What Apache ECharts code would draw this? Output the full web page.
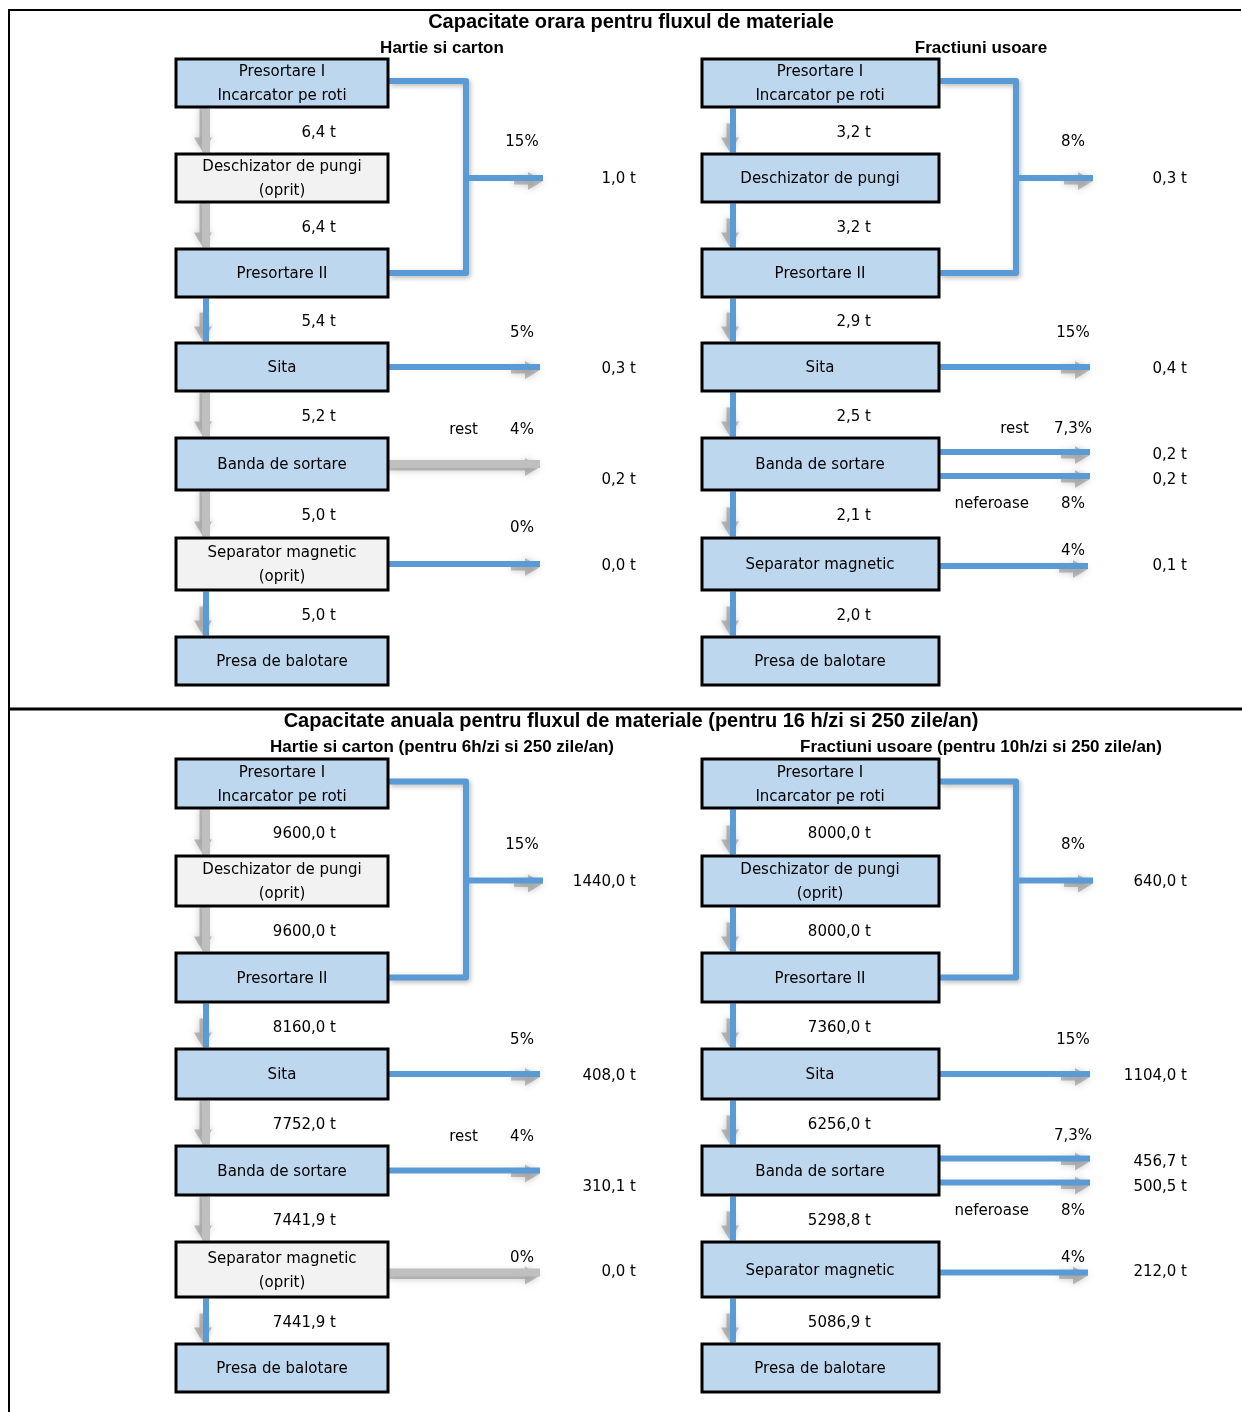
<!DOCTYPE html>
<html><head><meta charset="utf-8">
<script src="https://cdn.jsdelivr.net/npm/echarts@6/dist/echarts.min.js"></script>
<style>html,body{margin:0;padding:0;background:#fff}#c{width:1242px;height:1412px}</style>
</head><body><div id="c"></div>
<script>
// ---------------- DATA ----------------
const sectionTitles = [
  'Capacitate orara pentru fluxul de materiale',
  'Capacitate anuala pentru fluxul de materiale (pentru 16 h/zi si 250 zile/an)'
];
const streamTitles = [
  'Hartie si carton', 'Fractiuni usoare',
  'Hartie si carton (pentru 6h/zi si 250 zile/an)', 'Fractiuni usoare (pentru 10h/zi si 250 zile/an)'
];
const machinesHartie = ['Presortare I\nIncarcator pe roti', 'Deschizator de pungi\n(oprit)', 'Presortare II', 'Sita', 'Banda de sortare', 'Separator magnetic\n(oprit)', 'Presa de balotare'];
const machinesUsoareOra = ['Presortare I\nIncarcator pe roti', 'Deschizator de pungi', 'Presortare II', 'Sita', 'Banda de sortare', 'Separator magnetic', 'Presa de balotare'];
const machinesUsoareAn = ['Presortare I\nIncarcator pe roti', 'Deschizator de pungi\n(oprit)', 'Presortare II', 'Sita', 'Banda de sortare', 'Separator magnetic', 'Presa de balotare'];
const flowHartieOra = [6.4, 6.4, 5.4, 5.2, 5.0, 5.0];
const flowUsoareOra = [3.2, 3.2, 2.9, 2.5, 2.1, 2.0];
const flowHartieAn = [9600.0, 9600.0, 8160.0, 7752.0, 7441.9, 7441.9];
const flowUsoareAn = [8000.0, 8000.0, 7360.0, 6256.0, 5298.8, 5086.9];
// shares: presortare, sita, banda (rest), separator
const shareHartie = [15, 5, 4, 0];
// shares: presortare, sita, banda rest, banda neferoase, separator
const shareUsoare = [8, 15, 7.3, 8, 4];
const outHartieOra = [1.0, 0.3, 0.2, 0.0];
const outUsoareOra = [0.3, 0.4, 0.2, 0.2, 0.1];
const outHartieAn = [1440.0, 408.0, 310.1, 0.0];
const outUsoareAn = [640.0, 1104.0, 456.7, 500.5, 212.0];
const sortLabels = ['rest', 'neferoase'];

// ---------------- LAYOUT / STYLE ----------------
const BLUE = '#5B9BD5', GREYARROW = '#BFBFBF', BOXBLUE = '#BDD7EE', BOXGREY = '#F2F2F2';
const FONT = '15px "DejaVu Sans"';
const TDY = 2.5;
const cols = [
  {box: 176, w: 212, down: 206, flowR: 336, pct: 522, outR: 636, end: 540, brX: 466, brEnd: 543, restR: 478, cx: 282},
  {box: 702, w: 237, down: 733, flowR: 871, pct: 1073, outR: 1187, end: 1090, brX: 1016, brEnd: 1093, restR: 1029, cx: 820}
];
const rowsTop = [[59, 154, 249, 343, 438, 538, 637], [759, 856, 953, 1049, 1146, 1242, 1344]];
const rowsH = [[48, 48, 48, 48, 52, 52, 48], [49, 50, 49, 50, 49, 55, 48]];
const panels = [
  {sec: 0, col: 0, kind: 'H', machines: machinesHartie, flows: flowHartieOra, shares: shareHartie, outs: outHartieOra,
   grey: [1, 5], down: [0, 0, 1, 0, 0, 1], side: [1, 1, 0, 1], rest: true, sepDy: -38, sepAdj: 0},
  {sec: 0, col: 1, kind: 'U', machines: machinesUsoareOra, flows: flowUsoareOra, shares: shareUsoare, outs: outUsoareOra,
   grey: [], down: [1, 1, 1, 1, 1, 1], side: [1, 1, 1, 1, 1], rest: true, sepDy: -17, sepAdj: 2},
  {sec: 1, col: 0, kind: 'H', machines: machinesHartie, flows: flowHartieAn, shares: shareHartie, outs: outHartieAn,
   grey: [1, 5], down: [0, 0, 1, 0, 0, 1], side: [1, 1, 1, 0], rest: true, sepDy: -17, sepAdj: 3},
  {sec: 1, col: 1, kind: 'U', machines: machinesUsoareAn, flows: flowUsoareAn, shares: shareUsoare, outs: outUsoareAn,
   grey: [], down: [1, 1, 1, 1, 1, 1], side: [1, 1, 1, 1, 1], rest: false, sepDy: -17, sepAdj: 3}
];
const secTitleY = [22, 721], streamY = [47, 746], streamX = [442, 981];

const fmtT = v => v.toFixed(1).replace('.', ',') + ' t';
const fmtP = v => String(v).replace('.', ',') + '%';

function renderItem(params, api) {
  const ch = [];
  const P = (x, y) => api.coord([x, y]);
  const text = (x, y, t, align, font, dy) => {
    const p = P(x, y + (dy === undefined ? TDY : dy));
    ch.push({type: 'text', style: {x: p[0], y: p[1], text: t, font: font || FONT, fill: '#000',
      align: align || 'center', verticalAlign: 'middle', lineHeight: 24}});
  };
  const line = (pts, color, w, shadow) => {
    ch.push({type: 'polyline', shape: {points: pts.map(q => P(q[0], q[1]))},
      style: Object.assign({stroke: color, lineWidth: w, fill: null, lineJoin: 'round', lineCap: 'butt'},
        shadow ? {shadowBlur: 5, shadowColor: 'rgba(0,0,0,0.28)', shadowOffsetX: 1.5, shadowOffsetY: 2} : {})});
  };
  const arrow = (x1, y1, x2, y2, active) => {
    const L = Math.hypot(x2 - x1, y2 - y1), dx = (x2 - x1) / L, dy = (y2 - y1) / L, nx = -dy, ny = dx;
    const off = 3, hl = 15, hw = 9, sw = 3.5;
    const pt = (a, b) => P(x1 + dx * a + nx * (b + off), y1 + dy * a + ny * (b + off));
    const s0 = active ? Math.max(0, L - hl - 14) : 0;
    ch.push({type: 'polygon', shape: {points: [pt(s0, -sw), pt(L - hl, -sw), pt(L - hl, -hw), pt(L, 0), pt(L - hl, hw), pt(L - hl, sw), pt(s0, sw)]},
      style: {fill: 'rgba(120,120,120,0.45)', shadowBlur: 7, shadowColor: 'rgba(110,110,110,0.85)'}});
    line([[x1, y1], [x2, y2]], active ? BLUE : GREYARROW, active ? 6 : 8, false);
  };

  // frame
  line([[8, 10], [1241, 10]], '#000', 2);
  line([[9, 10], [9, 1412]], '#000', 2);
  line([[9, 709], [1242, 709]], '#000', 3);

  // titles
  sectionTitles.forEach((t, i) => text(631, secTitleY[i], t, 'center', 'bold 20px "Liberation Sans"', 0.5));
  streamTitles.forEach((t, i) => text(streamX[i % 2], streamY[Math.floor(i / 2)], t, 'center', 'bold 17px "Liberation Sans"', 1));

  panels.forEach(pn => {
    const c = cols[pn.col], tops = rowsTop[pn.sec], hs = rowsH[pn.sec];
    const mid = i => tops[i] + hs[i] / 2;
    const boxR = c.box + c.w;
    // vertical arrows + flow labels
    pn.flows.forEach((v, i) => {
      arrow(c.down, tops[i] + hs[i] + 1.5, c.down, tops[i + 1] - 1.5, pn.down[i]);
      text(c.flowR, (tops[i] + hs[i] + tops[i + 1]) / 2, fmtT(v), 'right');
    });
    // bracket presortare I + II
    const y1 = mid(0) - 2, y3 = mid(2), ym = (y1 + y3) / 2 + 1;
    line([[boxR + 1, y1], [c.brX, y1], [c.brX, y3], [boxR + 1, y3]], BLUE, 6, true);
    arrow(c.brX, ym, c.brEnd, ym, pn.side[0]);
    text(c.pct, ym - 38, fmtP(pn.shares[0]));
    text(c.outR, ym - 1, fmtT(pn.outs[0]), 'right');
    // sita
    const ys = mid(3);
    arrow(boxR + 1, ys, c.end, ys, pn.side[1]);
    text(c.pct, ys - 36.5, fmtP(pn.shares[1]));
    text(c.outR, ys, fmtT(pn.outs[1]), 'right');
    // banda
    const yb = mid(4);
    if (pn.kind === 'H') {
      arrow(boxR + 1, yb, c.end, yb, pn.side[2]);
      text(c.pct, yb - 36, fmtP(pn.shares[2]));
      text(c.restR, yb - 36, sortLabels[0], 'right');
      text(c.outR, yb + 14, fmtT(pn.outs[2]), 'right');
      const ysep = mid(5) + pn.sepAdj;
      arrow(boxR + 1, ysep, c.end, ysep, pn.side[3]);
      text(c.pct, ysep + pn.sepDy, fmtP(pn.shares[3]));
      text(c.outR, mid(5), fmtT(pn.outs[3]), 'right');
    } else {
      const ya = yb - 12, yc = yb + 12;
      arrow(boxR, ya, c.end, ya, pn.side[2]);
      arrow(boxR, yc, c.end, yc, pn.side[3]);
      text(c.pct, ya - 25, fmtP(pn.shares[2]));
      if (pn.rest) text(c.restR, ya - 25, sortLabels[0], 'right');
      text(c.outR, ya + 1, fmtT(pn.outs[2]), 'right');
      text(c.outR, yc + 2, fmtT(pn.outs[3]), 'right');
      text(c.pct, yc + 26, fmtP(pn.shares[3]));
      text(c.restR, yc + 26, sortLabels[1], 'right');
      const ysep = mid(5) + pn.sepAdj;
      arrow(boxR, ysep, c.end - 2, ysep, pn.side[4]);
      text(c.pct, ysep + pn.sepDy, fmtP(pn.shares[4]));
      text(c.outR, mid(5), fmtT(pn.outs[4]), 'right');
    }
    // boxes
    pn.machines.forEach((m, i) => {
      const p = P(c.box, tops[i]);
      const sz = api.size([c.w, hs[i]]);
      ch.push({type: 'rect', shape: {x: p[0], y: p[1], width: sz[0], height: sz[1]},
        style: {fill: pn.grey.indexOf(i) >= 0 ? BOXGREY : BOXBLUE, stroke: '#000', lineWidth: 3}});
      text(c.cx, mid(i), m, 'center', FONT, 1.5);
    });
  });
  return {type: 'group', children: ch};
}

const chart = echarts.init(document.getElementById('c'), null, {renderer: 'canvas'});
chart.setOption({
  animation: false,
  backgroundColor: '#fff',
  grid: {left: 0, right: 0, top: 0, bottom: 0},
  xAxis: {type: 'value', min: 0, max: 1242, show: false},
  yAxis: {type: 'value', min: 0, max: 1412, inverse: true, show: false},
  series: [{type: 'custom', coordinateSystem: 'cartesian2d', clip: false, silent: true,
    data: [[0, 0]], renderItem: renderItem}]
});
</script></body></html>
